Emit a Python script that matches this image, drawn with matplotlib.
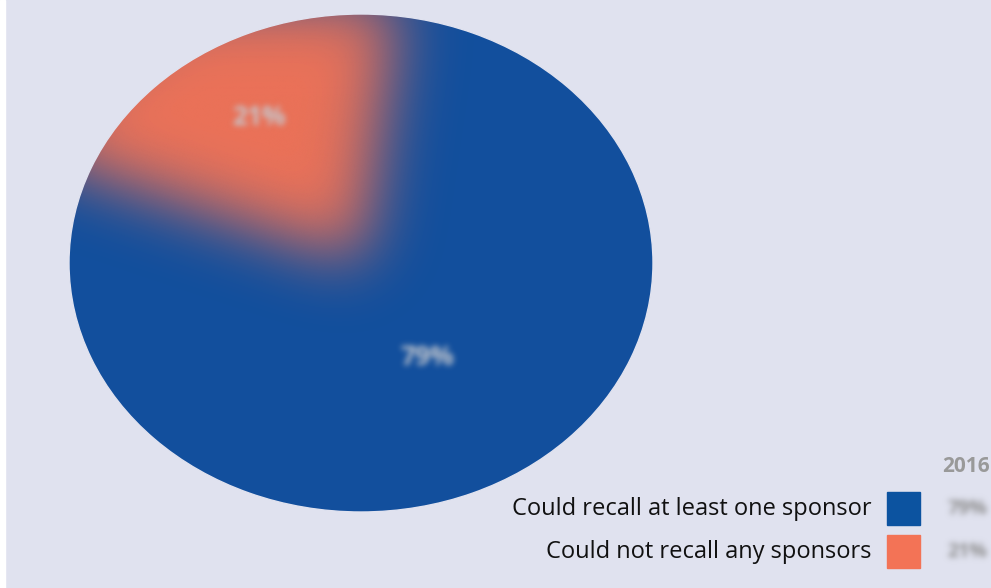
import numpy as np
import matplotlib
matplotlib.use("Agg")
import matplotlib.pyplot as plt
import matplotlib.patches as mpatches

plt.rcParams['font.family'] = ['Open Sans', 'DejaVu Sans']

categories = ["Could not recall any sponsors", "Could recall at least one sponsor"]
shares = [21, 79]
colors = ["#ec7258", "#124f9d"]
legend_colors = ["#f37356", "#0c53a0"]
year = "2016"

bg = "#e0e2ef"


def blur(sigma):
    # separable gaussian blur used as an agg filter (premultiplied alpha)
    pad = int(3 * sigma)
    x = np.arange(-pad, pad + 1)
    k = np.exp(-x ** 2 / (2.0 * sigma ** 2))
    k /= k.sum()

    def conv(a):
        a = np.apply_along_axis(lambda v: np.convolve(v, k, mode="same"), 0, a)
        return np.apply_along_axis(lambda v: np.convolve(v, k, mode="same"), 1, a)

    def f(im, dpi):
        src = np.pad(im, [(pad, pad), (pad, pad), (0, 0)], "constant")
        alpha = src[..., 3:4]
        rgb = conv(src[..., :3] * alpha)
        a = conv(alpha)
        rgb = np.where(a > 1e-4, rgb / np.maximum(a, 1e-4), 0)
        return np.clip(np.concatenate([rgb, a], axis=2), 0, 1), -pad, -pad
    return f


fig = plt.figure(figsize=(9.91, 5.88), dpi=100)
fig.patch.set_facecolor(bg)
fig.patches.append(mpatches.Rectangle((0, 0), 5 / 991, 1, transform=fig.transFigure,
                                      color="white", zorder=0))

ax = fig.add_axes([69 / 991, 1 - 512 / 588, 584 / 991, 498 / 588])
ax.set_facecolor("none")
wedges, _ = ax.pie(shares, colors=colors, startangle=83, counterclock=True)
ax.set_aspect("auto")
ax.set_xlim(-1, 1)
ax.set_ylim(-1, 1)
ax.axis("off")

# base plate so the blurred slice fades into blue
ax.add_patch(mpatches.Circle((0, 0), 1, color=colors[1], zorder=1))

# soft transition between the two slices
wedges[0].set_radius(1.2)
wedges[0].set_agg_filter(blur(32))
wedges[0].set_zorder(3)
wedges[1].set_zorder(2)

# cover the spill outside the pie outline
ring = mpatches.Wedge((0, 0), 2.0, 0, 360, width=1.0, color=bg, zorder=5, clip_on=False)
ax.add_patch(ring)

dists = [0.68, 0.44]
for w, s, d in zip(wedges, shares, dists):
    a = np.deg2rad((w.theta1 + w.theta2) / 2)
    t = ax.text(d * np.cos(a), d * np.sin(a), f"{s}%", ha="center", va="center",
                fontsize=19, fontweight="bold", color="#c6c9cf", zorder=6)
    t.set_agg_filter(blur(3))

# legend
fig.text(990 / 991, 1 - 466 / 588, year, ha="right", va="center", fontsize=15,
         fontweight="bold", color="#999999")
rows_y = [552, 509]
for name, col, s, y in zip(categories, legend_colors, shares, rows_y):
    fig.text(872 / 991, 1 - y / 588, name, ha="right", va="center", fontsize=17,
             color="#111111")
    fig.patches.append(mpatches.Rectangle((887 / 991, 1 - (y + 16) / 588), 33 / 991, 33 / 588,
                                          transform=fig.transFigure, color=col))
    t = fig.text(967 / 991, 1 - y / 588, f"{s}%", ha="center", va="center", fontsize=14,
                 fontweight="bold", color="#8e8e8e")
    t.set_agg_filter(blur(3))

fig.savefig("out.png", dpi=100, facecolor=bg)
